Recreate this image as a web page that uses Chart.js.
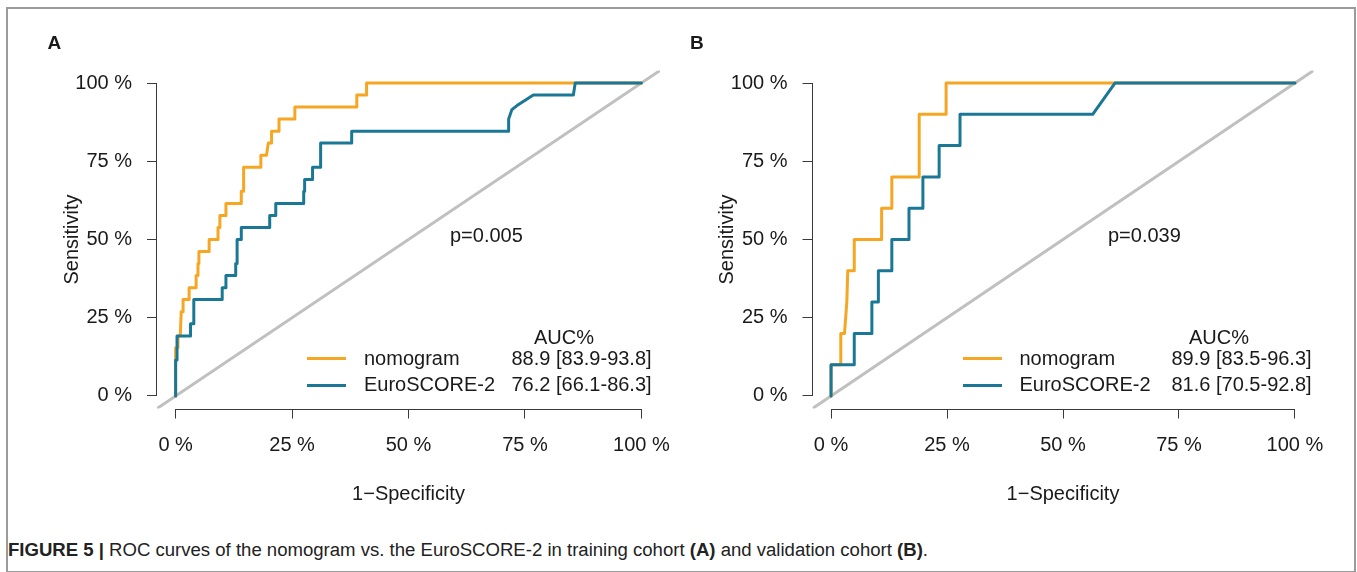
<!DOCTYPE html>
<html>
<head>
<meta charset="utf-8">
<script src="https://cdn.jsdelivr.net/npm/chart.js@4.4.1/dist/chart.umd.min.js"></script>
<style>
  html, body { margin: 0; padding: 0; background: #ffffff; }
  #fig { position: relative; width: 1357px; height: 572px; overflow: hidden;
         font-family: "Liberation Sans", Arial, Helvetica, sans-serif; color: #1a1a1a; }
  #frame { position: absolute; left: 6px; top: 7px; width: 1350px; height: 566px;
           border: 2px solid #9b9b9b; box-sizing: border-box; }
  canvas { position: absolute; top: 0; }
  .t { position: absolute; white-space: nowrap; font-size: 20px; line-height: 24px; }
  .lab { position: absolute; font-weight: bold; font-size: 19px; line-height: 24px; }
  .seg { position: absolute; height: 3px; width: 39px; }
  #caption { position: absolute; left: 8px; top: 539px; font-size: 18px; line-height: 22px;
             white-space: nowrap; color: #222; transform-origin: 0 0; }
</style>
</head>
<body>
<div id="fig">
  <div id="frame"></div>
  <canvas id="cA" width="680" height="520" style="left:0px;width:680px;height:520px"></canvas>
  <canvas id="cB" width="677" height="520" style="left:680px;width:677px;height:520px"></canvas>
  <div id="overlay"></div>
  <div id="caption"></div>
</div>
<script>
// ---------------- data ----------------
const tickVals   = [0, 25, 50, 75, 100];
const tickLabels = ['0 %', '25 %', '50 %', '75 %', '100 %'];
const diagLine   = [-4, 104];

// Panel A (training cohort) : ROC vertices, 1-specificity % / sensitivity %
const nomoA_fpr = [0, 0, 0.5, 0.5, 1.0, 1.2, 1.6, 1.6, 2.9, 2.9, 4.4, 4.4, 4.8, 4.8, 5.0, 5.0, 7.2, 7.2, 9.1, 9.1, 9.5, 9.5, 10.8, 10.8, 14.1, 14.1, 14.6, 14.6, 18.3, 18.3, 19.5, 19.9, 20.6, 20.6, 22.2, 22.2, 25.6, 25.6, 38.9, 38.9, 41.0, 41.0, 100];
const nomoA_tpr = [0, 15.4, 15.4, 19.2, 19.2, 26.9, 26.9, 30.8, 30.8, 34.6, 34.6, 38.5, 38.5, 42.3, 42.3, 46.2, 46.2, 50.0, 50.0, 53.8, 53.8, 57.7, 57.7, 61.5, 61.5, 65.4, 65.4, 73.1, 73.1, 76.9, 76.9, 80.8, 80.8, 84.6, 84.6, 88.5, 88.5, 92.3, 92.3, 96.2, 96.2, 100, 100];

const euroA_fpr = [0, 0, 0.3, 0.3, 3.2, 3.2, 3.9, 3.9, 10.0, 10.0, 10.8, 10.8, 12.9, 12.9, 13.2, 13.2, 14.1, 14.1, 20.2, 20.2, 21.5, 21.5, 27.5, 27.5, 27.7, 27.7, 29.4, 29.4, 31.0, 31.0, 31.2, 31.2, 37.8, 37.8, 71.5, 71.5, 72.2, 73.3, 76.8, 85.4, 85.8, 100];
const euroA_tpr = [0, 11.5, 11.5, 19.2, 19.2, 23.1, 23.1, 30.8, 30.8, 34.6, 34.6, 38.5, 38.5, 42.3, 42.3, 50.0, 50.0, 53.8, 53.8, 57.7, 57.7, 61.5, 61.5, 65.4, 65.4, 69.2, 69.2, 73.1, 73.1, 76.9, 76.9, 80.8, 80.8, 84.6, 84.6, 88.5, 91.5, 92.8, 96.2, 96.2, 100, 100];

// Panel B (validation cohort)
const nomoB_fpr = [0, 0, 2.1, 2.1, 2.9, 3.4, 3.6, 5.0, 5.0, 10.9, 10.9, 13.1, 13.1, 19.0, 19.0, 24.8, 24.8, 100];
const nomoB_tpr = [0, 10, 10, 20, 20, 30, 40, 40, 50, 50, 60, 60, 70, 70, 90, 90, 100, 100];

const euroB_fpr = [0, 0, 5.0, 5.0, 8.8, 8.8, 10.2, 10.2, 13.1, 13.1, 16.8, 16.8, 19.8, 19.8, 23.3, 23.3, 27.8, 27.8, 56.4, 61.2, 100];
const euroB_tpr = [0, 10, 10, 20, 20, 30, 30, 40, 40, 50, 50, 60, 60, 70, 70, 80, 80, 90, 90, 100, 100];

const seriesNames = ['nomogram', 'EuroSCORE-2'];
const aucA = ['88.9 [83.9-93.8]', '76.2 [66.1-86.3]'];
const aucB = ['89.9 [83.5-96.3]', '81.6 [70.5-92.8]'];
const pValues = ['p=0.005', 'p=0.039'];
const panelLabels = ['A', 'B'];
const aucHeader = 'AUC%';
const xTitle = '1\u2212Specificity';
const yTitle = 'Sensitivity';

// ---------------- style ----------------
const ORANGE = '#F5A623';
const BLUE   = '#1A7896';
const GRAY   = '#C0C0C0';
const AXIS   = '#3a3a3a';
const TEXT   = '#1a1a1a';
const FONT   = '"Liberation Sans", Arial, Helvetica, sans-serif';

const axisLines = {
  id: 'axisLines',
  beforeDatasetsDraw(chart) {
    const { ctx, chartArea, scales: { x, y } } = chart;
    ctx.save();
    ctx.strokeStyle = AXIS;
    ctx.lineWidth = 1;
    ctx.beginPath();
    const by = Math.round(chartArea.bottom) + 0.5;
    ctx.moveTo(x.getPixelForValue(tickVals[0]), by);
    ctx.lineTo(x.getPixelForValue(tickVals[tickVals.length - 1]), by);
    const lx = Math.round(chartArea.left) - 0.5;
    ctx.moveTo(lx, y.getPixelForValue(tickVals[0]));
    ctx.lineTo(lx, y.getPixelForValue(tickVals[tickVals.length - 1]));
    ctx.stroke();
    ctx.restore();
  }
};

function pts(xs, ys) { return xs.map((v, i) => ({ x: v, y: ys[i] })); }

function makeChart(id, d, lay) {
  const tickFont = { family: FONT, size: 20 };
  const lbl = (v) => { const i = tickVals.indexOf(v); return i >= 0 ? tickLabels[i] : ''; };
  const common = () => ({
    type: 'linear', min: diagLine[0], max: diagLine[1],
    afterBuildTicks: (s) => { s.ticks = tickVals.map(v => ({ value: v })); },
    ticks: { callback: lbl, font: tickFont, color: TEXT, padding: 15, autoSkip: false, maxRotation: 0, minRotation: 0 },
    grid: { display: true, drawOnChartArea: false, drawTicks: true, tickLength: 10, color: AXIS, lineWidth: 1 },
    border: { display: false }
  });
  const xs = common();
  xs.afterFit = (s) => { s.height = lay.xh; s.paddingLeft = 0; s.paddingRight = 0; };
  xs.title = { display: true, text: xTitle, font: tickFont, color: TEXT, padding: { top: 0, bottom: 14 } };
  const ys = common();
  ys.afterFit = (s) => { s.width = lay.yw; s.paddingTop = 0; s.paddingBottom = 0; };
  ys.title = { display: true, text: yTitle, font: tickFont, color: TEXT, padding: { top: lay.yt, bottom: 0 } };

  const line = (data, color, order) => ({
    data, borderColor: color, backgroundColor: color, order, showLine: true,
    borderWidth: 3, pointRadius: 0, pointHoverRadius: 0, tension: 0, fill: false,
    borderCapStyle: 'round', borderJoinStyle: 'round'
  });

  return new Chart(document.getElementById(id), {
    type: 'scatter',
    data: {
      datasets: [
        line(pts(d.euroX, d.euroY), BLUE, 1),
        line(pts(d.nomoX, d.nomoY), ORANGE, 2),
        line(pts(diagLine, diagLine), GRAY, 3)
      ]
    },
    options: {
      responsive: false, animation: false, devicePixelRatio: 1,
      layout: { padding: { left: 0, top: 70.5, right: lay.right, bottom: 0 } },
      plugins: { legend: { display: false }, tooltip: { enabled: false }, title: { display: false } },
      events: [],
      scales: { x: xs, y: ys }
    },
    plugins: [axisLines]
  });
}

makeChart('cA', { nomoX: nomoA_fpr, nomoY: nomoA_tpr, euroX: euroA_fpr, euroY: euroA_tpr },
          { yw: 157, right: 20, xh: 111.5, yt: 60 });
makeChart('cB', { nomoX: nomoB_fpr, nomoY: nomoB_tpr, euroX: euroB_fpr, euroY: euroB_tpr },
          { yw: 132.5, right: 43.5, xh: 111.5, yt: 35.5 });

// ---------------- text overlays ----------------
const ov = document.getElementById('overlay');
function addText(cls, txt, left, top, extra) {
  const e = document.createElement('div');
  e.className = cls; e.textContent = txt;
  e.style.left = left + 'px'; e.style.top = top + 'px';
  if (extra) Object.assign(e.style, extra);
  ov.appendChild(e); return e;
}
function addSeg(left, top, color) {
  const e = document.createElement('div');
  e.className = 'seg'; e.style.left = left + 'px'; e.style.top = top + 'px'; e.style.background = color;
  ov.appendChild(e);
}
const panels = [
  { lab: panelLabels[0], labX: 47.5, p: pValues[0], pX: 450, segX: 306.5, nameX: 364, aucX: 511.5, hdrC: 564, auc: aucA },
  { lab: panelLabels[1], labX: 690,  p: pValues[1], pX: 1108, segX: 962.5, nameX: 1019.5, aucX: 1171.5, hdrC: 1219, auc: aucB }
];
panels.forEach(P => {
  addText('lab', P.lab, P.labX, 30.5);
  addText('t', P.p, P.pX, 223);
  addText('t', aucHeader, P.hdrC, 324.5, { transform: 'translateX(-50%)' });
  addSeg(P.segX, 356.5, ORANGE);
  addSeg(P.segX, 384, BLUE);
  addText('t', seriesNames[0], P.nameX, 346);
  addText('t', seriesNames[1], P.nameX, 372);
  addText('t', P.auc[0], P.aucX, 346);
  addText('t', P.auc[1], P.aucX, 372);
});

// caption
const cap = document.getElementById('caption');
cap.innerHTML = '<b>FIGURE 5 |</b> ROC curves of the nomogram vs. the EuroSCORE-2 in training cohort <b>(A)</b> and validation cohort <b>(B)</b>.';
const w = cap.getBoundingClientRect().width;
cap.style.transform = 'scaleX(' + (920 / w) + ')';
</script>
</body>
</html>
